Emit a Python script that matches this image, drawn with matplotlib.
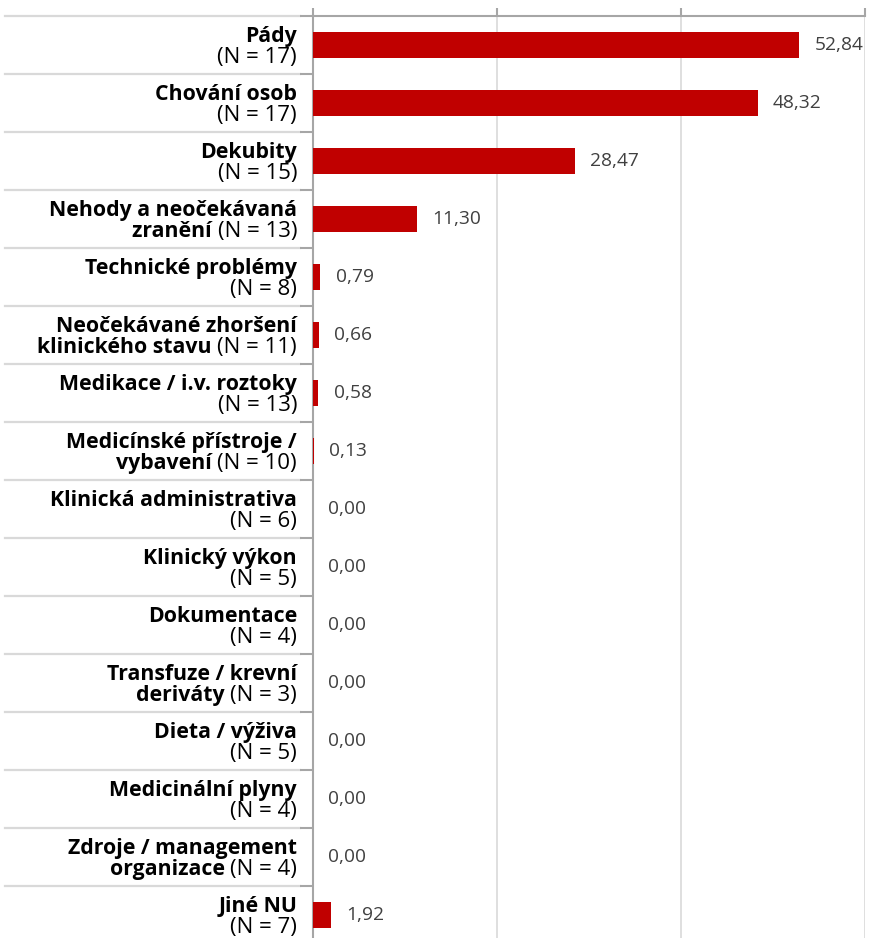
import matplotlib.pyplot as plt
from matplotlib.transforms import blended_transform_factory

plt.rcParams['font.family'] = ['Open Sans', 'DejaVu Sans']

# categories (bold part, '\n' = line break inside bold text)
categories = ['Pády', 'Chování osob', 'Dekubity', 'Nehody a neočekávaná\nzranění',
              'Technické problémy', 'Neočekávané zhoršení\nklinického stavu',
              'Medikace / i.v. roztoky', 'Medicínské přístroje /\nvybavení',
              'Klinická administrativa', 'Klinický výkon', 'Dokumentace',
              'Transfuze / krevní\nderiváty', 'Dieta / výživa', 'Medicinální plyny',
              'Zdroje / management\norganizace', 'Jiné NU']
counts = [17, 17, 15, 13, 8, 11, 13, 10, 6, 5, 4, 3, 5, 4, 4, 7]
values = [52.84, 48.32, 28.47, 11.30, 0.79, 0.66, 0.58, 0.13,
          0.00, 0.00, 0.00, 0.00, 0.00, 0.00, 0.00, 1.92]
xticks = [0, 20, 40, 60]

bar_color = '#C00000'
axis_color = '#A6A6A6'
light = '#D9D9D9'
bold_size = 15.3
norm_size = 16

fig = plt.figure(figsize=(8.85, 9.38), dpi=100)
ax = fig.add_axes([313 / 885, -6 / 938, 552 / 885, 928 / 938])

y = list(range(len(values)))
ax.barh(y, values, height=0.44, color=bar_color, zorder=3)
ax.set_xlim(0, 60)
ax.set_ylim(len(values) - 0.5, -0.5)

# osa x nahoře, bez popisků
ax.xaxis.tick_top()
ax.set_xticks(xticks)
ax.set_xticklabels([])
ax.tick_params(axis='x', length=5.8, width=1.5, color=axis_color, direction='out')
ax.grid(axis='x', color=light, lw=1.2, zorder=0)

# osa y - značky na hranicích kategorií
bounds = [i - 0.5 for i in range(len(values) + 1)]
ax.set_yticks(bounds)
ax.set_yticklabels([])
ax.tick_params(axis='y', length=9.4, width=1.5, color=axis_color, direction='out')

for s in ['right', 'bottom']:
    ax.spines[s].set_visible(False)
for s in ['top', 'left']:
    ax.spines[s].set_color(axis_color)
    ax.spines[s].set_linewidth(1.5)

# oddělovače řádků vlevo
tr = blended_transform_factory(fig.transFigure, ax.transData)
for b in bounds:
    ax.plot([5 / 885, 300 / 885], [b, b], transform=tr, color=light, lw=1.6,
            clip_on=False, zorder=1)

# hodnoty
for i, v in enumerate(values):
    ax.annotate(f'{v:.2f}'.replace('.', ','), xy=(v, i), xytext=(11, 0),
                textcoords='offset points', ha='left', va='center',
                fontsize=13.8, color='#404040')

# popisky kategorií (tučná část + normální (N = x))
renderer = fig.canvas.get_renderer()
xoff = -11.5
y1, y2 = 2.2, -13.3
for i, (name, n) in enumerate(zip(categories, counts)):
    parts = name.split('\n')
    ntxt = f'(N = {n})'
    ax.annotate(parts[0], xy=(0, i), xycoords=('axes fraction', 'data'),
                xytext=(xoff, y1), textcoords='offset points',
                ha='right', va='baseline', fontsize=bold_size, fontweight='bold')
    t = ax.annotate(ntxt, xy=(0, i), xycoords=('axes fraction', 'data'),
                    xytext=(xoff, y2), textcoords='offset points',
                    ha='right', va='baseline', fontsize=norm_size)
    if len(parts) > 1:
        w = t.get_window_extent(renderer).width * 72 / fig.dpi
        ax.annotate(parts[1] + ' ', xy=(0, i), xycoords=('axes fraction', 'data'),
                    xytext=(xoff - w, y2), textcoords='offset points',
                    ha='right', va='baseline', fontsize=bold_size, fontweight='bold')

plt.savefig('out.png', dpi=100)
